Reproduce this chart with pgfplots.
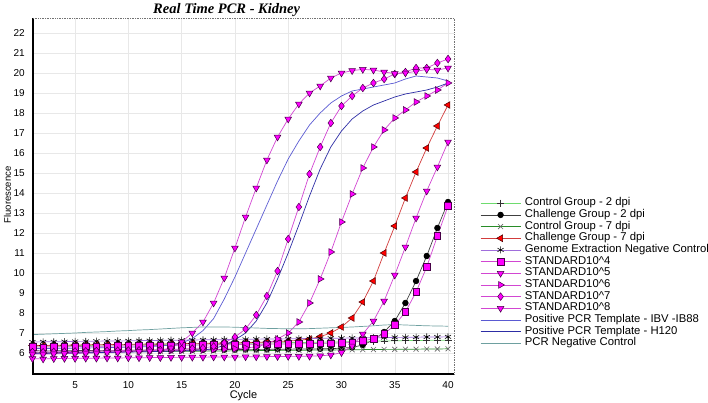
\documentclass[border=0pt]{standalone}
\usepackage{pgfplots}
\pgfplotsset{compat=1.18}
\usepackage{pgfplotstable}
\usepackage{fontspec}
\setmainfont{Liberation Sans}
\newfontfamily\titlefont{Liberation Serif}

\definecolor{stdline}{RGB}{210,70,210}
\definecolor{stdfill}{RGB}{255,0,255}
\definecolor{stddraw}{RGB}{70,0,70}
\definecolor{lgreen}{RGB}{110,220,110}
\definecolor{dgreen}{RGB}{40,140,40}
\definecolor{redline}{RGB}{210,60,60}
\definecolor{genline}{RGB}{160,110,220}
\definecolor{ibvline}{RGB}{90,90,210}
\definecolor{hline}{RGB}{45,45,165}
\definecolor{negline}{RGB}{110,160,160}

\pgfplotstableread{
c c2p ch2 c7p ch7 gen s4 s5 s6 s7 s8 ibv h120 neg
1 6.35 6.12 6.02 6.38 6.55 6.30 5.72 6.00 6.05 5.95 6.22 5.98 6.92
2 6.34 6.10 6.01 6.37 6.56 6.29 5.70 5.99 6.04 5.94 6.22 5.98 6.94
3 6.36 6.11 6.02 6.39 6.56 6.31 5.72 6.01 6.06 5.96 6.23 5.99 6.96
4 6.36 6.11 6.03 6.39 6.57 6.31 5.73 6.02 6.07 5.97 6.24 6.00 6.98
5 6.38 6.12 6.03 6.40 6.58 6.32 5.73 6.03 6.08 5.98 6.24 6.00 7.00
6 6.37 6.12 6.04 6.41 6.58 6.33 5.74 6.04 6.09 5.99 6.25 6.01 7.03
7 6.39 6.13 6.04 6.41 6.59 6.33 5.74 6.05 6.10 6.00 6.26 6.02 7.05
8 6.40 6.13 6.05 6.42 6.60 6.34 5.75 6.06 6.11 6.02 6.27 6.03 7.07
9 6.39 6.13 6.05 6.43 6.60 6.35 5.75 6.07 6.12 6.03 6.28 6.04 7.10
10 6.41 6.14 6.06 6.43 6.61 6.35 5.76 6.08 6.13 6.05 6.29 6.05 7.12
11 6.42 6.14 6.06 6.44 6.62 6.36 5.76 6.09 6.14 6.07 6.30 6.06 7.15
12 6.41 6.14 6.07 6.45 6.62 6.37 5.77 6.10 6.15 6.10 6.32 6.07 7.17
13 6.43 6.15 6.07 6.45 6.63 6.37 5.77 6.11 6.16 6.15 6.35 6.08 7.20
14 6.44 6.15 6.08 6.46 6.64 6.38 5.78 6.12 6.18 6.25 6.40 6.09 7.23
15 6.44 6.15 6.08 6.47 6.64 6.39 5.78 6.13 6.20 6.55 6.50 6.10 7.26
16 6.45 6.16 6.09 6.48 6.65 6.39 5.79 6.14 6.22 7.00 6.72 6.12 7.28
17 6.46 6.16 6.09 6.48 6.66 6.40 5.79 6.15 6.25 7.55 7.12 6.15 7.30
18 6.46 6.17 6.10 6.49 6.66 6.41 5.80 6.17 6.33 8.50 7.72 6.22 7.30
19 6.47 6.17 6.10 6.50 6.67 6.41 5.80 6.19 6.50 9.75 8.70 6.38 7.30
20 6.48 6.17 6.11 6.51 6.68 6.42 5.80 6.21 6.80 11.25 9.80 6.65 7.29
21 6.48 6.18 6.11 6.52 6.68 6.43 5.81 6.25 7.20 12.80 11.00 7.00 7.27
22 6.50 6.18 6.12 6.53 6.69 6.43 5.81 6.31 7.90 14.25 12.20 7.60 7.25
23 6.50 6.18 6.12 6.55 6.70 6.44 5.82 6.45 8.85 15.65 13.40 8.50 7.23
24 6.51 6.19 6.13 6.57 6.70 6.45 5.82 6.70 10.10 16.80 14.60 9.70 7.22
25 6.52 6.19 6.13 6.60 6.71 6.45 5.83 7.00 11.70 17.70 15.70 11.00 7.21
26 6.52 6.20 6.14 6.63 6.72 6.46 5.83 7.55 13.30 18.45 16.60 12.40 7.21
27 6.53 6.20 6.14 6.70 6.72 6.47 5.84 8.50 14.95 19.00 17.40 13.85 7.22
28 6.54 6.21 6.15 6.82 6.73 6.48 5.86 9.70 16.30 19.35 18.00 15.20 7.24
29 6.55 6.22 6.15 7.00 6.74 6.49 5.90 11.05 17.50 19.75 18.50 16.30 7.26
30 6.56 6.24 6.16 7.30 6.74 6.50 6.02 12.55 18.35 20.00 18.85 17.10 7.28
31 6.57 6.28 6.16 7.75 6.75 6.53 6.35 13.95 18.85 20.12 19.10 17.70 7.30
32 6.58 6.40 6.17 8.55 6.76 6.60 6.95 15.25 19.25 20.18 19.20 18.10 7.33
33 6.59 6.65 6.17 9.60 6.76 6.72 7.60 16.30 19.50 20.15 19.30 18.40 7.36
34 6.60 7.05 6.18 11.00 6.77 6.95 8.60 17.15 19.70 20.05 19.40 18.60 7.40
35 6.61 7.60 6.18 12.35 6.78 7.40 9.90 17.75 19.95 19.97 19.50 18.80 7.42
36 6.62 8.50 6.19 13.75 6.78 8.05 11.30 18.15 20.05 20.00 19.70 18.95 7.40
37 6.62 9.60 6.19 15.05 6.79 9.05 12.75 18.55 20.25 20.08 19.85 19.05 7.38
38 6.63 10.85 6.20 16.25 6.80 10.30 14.10 18.85 20.25 20.18 19.80 19.15 7.36
39 6.64 12.25 6.20 17.35 6.80 11.85 15.30 19.15 20.50 20.15 19.75 19.30 7.35
40 6.64 13.55 6.21 18.40 6.81 13.35 16.55 19.50 20.70 20.25 19.60 19.50 7.34
}\pcr

\begin{document}
\begin{tikzpicture}[x=1pt,y=1pt]
\useasboundingbox (0,0) rectangle (708,403);
\begin{axis}[
  at={(33pt,29pt)}, anchor=south west,
  scale only axis, width=421pt, height=356pt,
  xmin=1.05, xmax=40.56, ymin=4.95, ymax=22.75,
  xtick={5,10,...,40}, ytick={6,7,...,22},
  grid=major, major grid style={color=black!9, line width=0.5pt},
  axis line style={draw=none}, tick style={draw=none},
  clip=false,
  /pgf/number format/assume math mode=true,
  ticklabel style={font=\fontsize{10}{12}\selectfont, inner sep=0pt},
  xticklabel style={anchor=base, yshift=-15pt},
  yticklabel style={anchor=east, xshift=-8pt},
  xlabel={Cycle}, ylabel={Fluorescence},
  xlabel style={at={(axis description cs:0.5,0)}, anchor=center, yshift=-22pt, font=\fontsize{11}{13}\selectfont},
  ylabel style={at={(axis description cs:-0.0606,0.503)}, anchor=center, rotate=0, font=\fontsize{9.5}{11}\selectfont},
  legend style={at={(axis description cs:1.0618,0.4966)}, anchor=north west, draw=none, fill=none,
    inner sep=0pt, font=\fontsize{11.3}{12}\selectfont, row sep=0pt,
    nodes={inner sep=0pt, text height=8.3pt, text depth=3.37pt},
    /tikz/every odd column/.append style={column sep=4pt}},
  legend cell align=left,
  legend image code/.code={\draw[mark repeat=2,mark phase=2,#1] plot coordinates {(0pt,0pt) (20pt,0pt) (40pt,0pt)};},
  every axis plot/.append style={line width=0.7pt},
]
\addplot[color=lgreen, mark=+, mark size=3.5pt, mark options={solid, draw=black!80, line width=0.6pt}] table[x=c,y=c2p]{\pcr};
\addlegendentry{Control Group - 2 dpi}
\addplot[color=black!75, mark=*, mark size=2.8pt, mark options={solid, fill=black, draw=black}] table[x=c,y=ch2]{\pcr};
\addlegendentry{Challenge Group - 2 dpi}
\addplot[color=dgreen, mark=x, mark size=3.5pt, mark options={solid, draw=black!60, line width=0.6pt}] table[x=c,y=c7p]{\pcr};
\addlegendentry{Control Group - 7 dpi}
\addplot[color=redline, mark=triangle*, mark size=3.9pt, mark options={solid, rotate=90, fill=red, draw=black!70!red, line width=0.5pt}] table[x=c,y=ch7]{\pcr};
\addlegendentry{Challenge Group - 7 dpi}
\addplot[color=genline, mark=asterisk, mark size=3.5pt, mark options={solid, draw=black, line width=0.6pt}] table[x=c,y=gen]{\pcr};
\addlegendentry{Genome Extraction Negative Control}
\addplot[color=stdline, mark=square*, mark size=3.3pt, mark options={solid, fill=stdfill, draw=stddraw, line width=0.5pt}] table[x=c,y=s4]{\pcr};
\addlegendentry{STANDARD10\textasciicircum 4}
\addplot[color=stdline, mark=triangle*, mark size=3.9pt, mark options={solid, rotate=180, fill=stdfill, draw=stddraw, line width=0.5pt}] table[x=c,y=s5]{\pcr};
\addlegendentry{STANDARD10\textasciicircum 5}
\addplot[color=stdline, mark=triangle*, mark size=3.9pt, mark options={solid, rotate=-90, fill=stdfill, draw=stddraw, line width=0.5pt}] table[x=c,y=s6]{\pcr};
\addlegendentry{STANDARD10\textasciicircum 6}
\addplot[color=stdline, mark=diamond*, mark size=3.8pt, mark options={solid, fill=stdfill, draw=stddraw, line width=0.5pt}] table[x=c,y=s7]{\pcr};
\addlegendentry{STANDARD10\textasciicircum 7}
\addplot[color=stdline, mark=triangle*, mark size=3.9pt, mark options={solid, rotate=180, fill=stdfill, draw=stddraw, line width=0.5pt}] table[x=c,y=s8]{\pcr};
\addlegendentry{STANDARD10\textasciicircum 8}
\addplot[color=ibvline, no marks] table[x=c,y=ibv]{\pcr};
\addlegendentry{Positive PCR Template - IBV -IB88}
\addplot[color=hline, no marks] table[x=c,y=h120]{\pcr};
\addlegendentry{Positive PCR Template - H120}
\addplot[color=negline, no marks] table[x=c,y=neg]{\pcr};
\addlegendentry{PCR Negative Control}
\draw[line width=1.6pt, black] (rel axis cs:0,1) -- (rel axis cs:0,0) -- (rel axis cs:1,0);
\draw[densely dotted, black!55, line width=0.7pt] (rel axis cs:0,1) -- (rel axis cs:1,1) -- (rel axis cs:1,0);
\node[anchor=base, yshift=4pt, font=\fontsize{14.5}{16}\selectfont] at (rel axis cs:0.46,1) {\titlefont\bfseries\itshape Real Time PCR - Kidney};
\end{axis}
\end{tikzpicture}
\end{document}
